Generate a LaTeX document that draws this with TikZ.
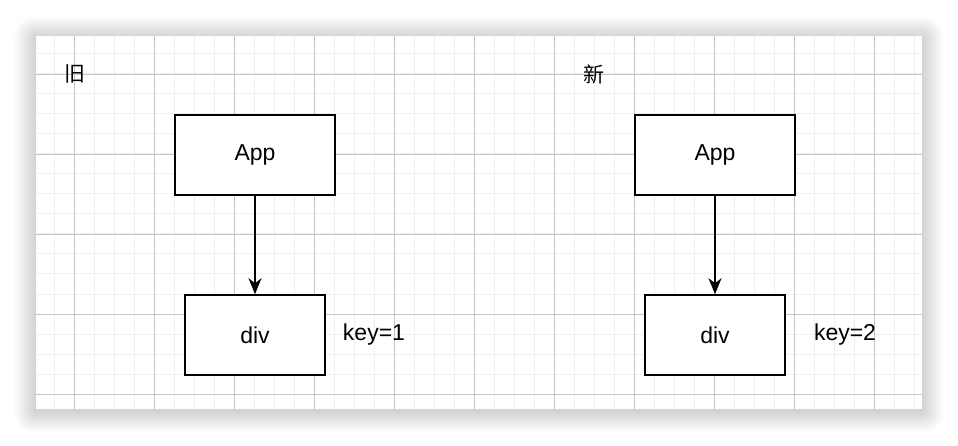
\documentclass[tikz,border=0pt]{standalone}
\usepackage{fontspec}
\setmainfont{Liberation Sans}
\newfontfamily\cjk{Noto Sans CJK SC}
\usetikzlibrary{arrows.meta,positioning}

\definecolor{minorgrid}{HTML}{EFEFEF}
\definecolor{majorgrid}{HTML}{C6C6C6}

\tikzset{
   block/.style={draw, line width=1.6pt, fill=white, minimum width=#1,
      minimum height=80pt, inner sep=0pt, font=\fontsize{23}{26}\selectfont},
   label text/.style={inner sep=0pt, font=\fontsize{23}{26}\selectfont},
   title text/.style={inner sep=0pt, font=\cjk\fontsize{21}{24}\selectfont},
   arr/.style={line width=1.6pt, -{Stealth[length=16pt,width=13pt,inset=5pt]}}
}

\begin{document}
\begin{tikzpicture}[x=1pt,y=-1pt]%
   \useasboundingbox (0,0) rectangle (958,446);
   \foreach \i in {1,...,22}
      \fill[black, opacity=0.008, rounded corners=\i pt]
         (36-\i,38-\i) rectangle (922+\i,411+\i);
   \fill[white] (36,36) rectangle (922,409);
   \foreach \x in {54,74,...,914} \draw[minorgrid, line width=1pt] (\x,36) -- (\x,409);
   \foreach \y in {54,74,...,394} \draw[minorgrid, line width=1pt] (36,\y) -- (922,\y);
   \foreach \x in {74,154,...,874} \draw[majorgrid, line width=0.8pt] (\x,36) -- (\x,409);
   \foreach \y in {74,154,...,394} \draw[majorgrid, line width=0.8pt] (36,\y) -- (922,\y);

   \node[title text] (oldtitle) at (75,74) {旧};
   \node[block=160pt] (appold) at (255,155) {App};
   \node[block=140pt] (divold) at (255,335) {div};
   \node[label text] (keyold) at (374,335) {key=1};
   \draw[arr] (appold) -- (divold);

   \node[title text] (newtitle) at (594,74) {新};
   \node[block=160pt] (appnew) at (715,155) {App};
   \node[block=140pt] (divnew) at (715,335) {div};
   \node[label text] (keynew) at (845,335) {key=2};
   \draw[arr] (appnew) -- (divnew);
\end{tikzpicture}
\end{document}
